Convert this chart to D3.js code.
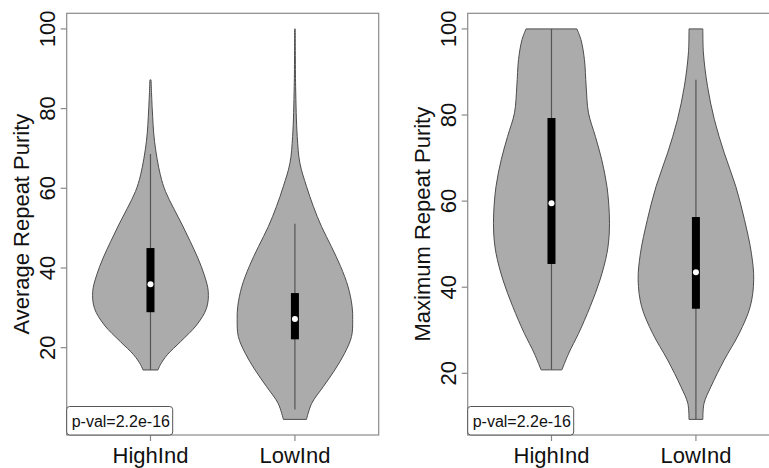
<!DOCTYPE html>
<html>
<head>
<meta charset="utf-8">
<script src="https://cdn.jsdelivr.net/npm/d3@7"></script>
<style>
  body { margin: 0; background: #fff; }
  text { font-family: "Liberation Sans", Arial, sans-serif; fill: #111; }
</style>
</head>
<body>
<div id="chart"></div>
<script>
var groups = ['HighInd', 'LowInd'];
var yTicks = [20, 40, 60, 80, 100];
var pLabel = 'p-val=2.2e-16';

// density outlines: value -> relative half-width
var avgHighVals = [14.4, 15.7, 18.2, 21.5, 25.7, 29.9, 34.1, 38.3, 42.5, 46.6, 50.8, 55, 59.2, 63.4, 71.8, 80.1, 87.2];
var avgHighDens = [0.13, 0.17, 0.29, 0.52, 0.80, 0.97, 1.0, 0.93, 0.82, 0.69, 0.55, 0.40, 0.26, 0.17, 0.07, 0.03, 0.01];
var avgLowVals = [2.0, 6, 10.2, 14.4, 18.6, 22.8, 27, 30.3, 35.3, 40.4, 45.4, 50.4, 55.4, 60.5, 66.3, 73, 85.6, 100];
var avgLowDens = [0.2, 0.29, 0.49, 0.69, 0.86, 0.98, 1.0, 0.99, 0.92, 0.79, 0.63, 0.46, 0.32, 0.2, 0.086, 0.04, 0.012, 0.005];
var maxHighVals = [20.8, 24.7, 29.3, 35.5, 41.7, 47.9, 52.6, 57.2, 63.4, 69.6, 75, 80.5, 86.7, 92.9, 97.5, 100];
var maxHighDens = [0.18, 0.30, 0.47, 0.67, 0.84, 0.96, 1.0, 1.0, 0.96, 0.87, 0.76, 0.64, 0.60, 0.57, 0.51, 0.44];
var maxLowVals = [9.3, 13, 16.9, 23.1, 29.3, 35.5, 41.7, 47.9, 55.7, 63.4, 71.2, 78.9, 86.7, 94.4, 100];
var maxLowDens = [0.12, 0.14, 0.26, 0.49, 0.75, 0.94, 1.0, 0.96, 0.84, 0.69, 0.49, 0.32, 0.20, 0.13, 0.12];

// [whisker low, q1, median, q3, whisker high]
var avgHighBox = [14.4, 28.9, 35.9, 45.0, 68.6];
var avgLowBox = [4.5, 22.1, 27.2, 33.7, 51.1];
var maxHighBox = [20.8, 45.4, 59.5, 79.3, 100];
var maxLowBox = [9.3, 35.0, 43.5, 56.3, 88.2];

var W = 769, H = 468;
var svg = d3.select('#chart').append('svg')
  .attr('width', W)
  .attr('height', H);

function zip(vals, dens) {
  return vals.map(function(v, i) { return { v: v, w: dens[i] }; });
}

function drawPanel(left, title, violins, boxes) {
  var top = 13.3, bottom = 435, width = 312;
  var lo = d3.min(violins, function(d) { return d[0].v; });
  var hi = d3.max(violins, function(d) { return d[d.length - 1].v; });
  var pad = (hi - lo) * 0.04;
  var y = d3.scaleLinear().domain([lo - pad, hi + pad]).range([bottom, top]);
  var x = d3.scaleLinear().domain([0.42, 2.58]).range([left, left + width]);
  var unit = x(1) - x(0);

  var g = svg.append('g');

  violins.forEach(function(pts, i) {
    var cx = x(i + 1);
    var area = d3.area()
      .curve(d3.curveCatmullRom.alpha(0.5))
      .y(function(d) { return y(d.v); })
      .x0(function(d) { return cx - d.w * 0.4 * unit; })
      .x1(function(d) { return cx + d.w * 0.4 * unit; });
    g.append('path')
      .attr('d', area(pts))
      .attr('fill', '#ababab')
      .attr('stroke', '#4d4d4d')
      .attr('stroke-width', 1);

    var b = boxes[i];
    g.append('line')
      .attr('x1', cx).attr('x2', cx)
      .attr('y1', y(b[0])).attr('y2', y(b[4]))
      .attr('stroke', '#555')
      .attr('stroke-width', 1.2);
    g.append('rect')
      .attr('x', cx - 4)
      .attr('width', 8)
      .attr('y', y(b[3]))
      .attr('height', y(b[1]) - y(b[3]))
      .attr('fill', '#000');
    g.append('circle')
      .attr('cx', cx)
      .attr('cy', y(b[2]))
      .attr('r', 3)
      .attr('fill', '#fff');
  });

  // frame
  g.append('rect')
    .attr('x', left).attr('y', top)
    .attr('width', width).attr('height', bottom - top)
    .attr('fill', 'none')
    .attr('stroke', '#8a8a8a')
    .attr('stroke-width', 1.2);

  // y axis
  yTicks.forEach(function(t) {
    g.append('line')
      .attr('x1', left - 6).attr('x2', left)
      .attr('y1', y(t)).attr('y2', y(t))
      .attr('stroke', '#8a8a8a').attr('stroke-width', 1.2);
    g.append('text')
      .attr('transform', 'translate(' + (left - 19) + ',' + y(t) + ') rotate(-90)')
      .attr('text-anchor', 'middle')
      .attr('dy', '0.35em')
      .attr('font-size', 22)
      .text(t);
  });
  g.append('text')
    .attr('transform', 'translate(' + (left - 45) + ',' + ((top + bottom) / 2) + ') rotate(-90)')
    .attr('text-anchor', 'middle')
    .attr('dy', '0.35em')
    .attr('font-size', 22)
    .text(title);

  // x axis
  groups.forEach(function(name, i) {
    g.append('line')
      .attr('x1', x(i + 1)).attr('x2', x(i + 1))
      .attr('y1', bottom).attr('y2', bottom + 6)
      .attr('stroke', '#8a8a8a').attr('stroke-width', 1.2);
    g.append('text')
      .attr('x', x(i + 1))
      .attr('y', 463)
      .attr('text-anchor', 'middle')
      .attr('font-size', 22)
      .text(name);
  });

  // p-value legend box (bottom left)
  g.append('rect')
    .attr('x', left).attr('y', 406.5)
    .attr('width', 106).attr('height', bottom - 406.5)
    .attr('rx', 3)
    .attr('fill', '#fff')
    .attr('stroke', '#555')
    .attr('stroke-width', 1);
  g.append('text')
    .attr('x', left + 5)
    .attr('y', 427)
    .attr('font-size', 16)
    .text(pLabel);
}

drawPanel(66.7, 'Average Repeat Purity',
  [zip(avgHighVals, avgHighDens), zip(avgLowVals, avgLowDens)],
  [avgHighBox, avgLowBox]);
drawPanel(467.7, 'Maximum Repeat Purity',
  [zip(maxHighVals, maxHighDens), zip(maxLowVals, maxLowDens)],
  [maxHighBox, maxLowBox]);
</script>
</body>
</html>
